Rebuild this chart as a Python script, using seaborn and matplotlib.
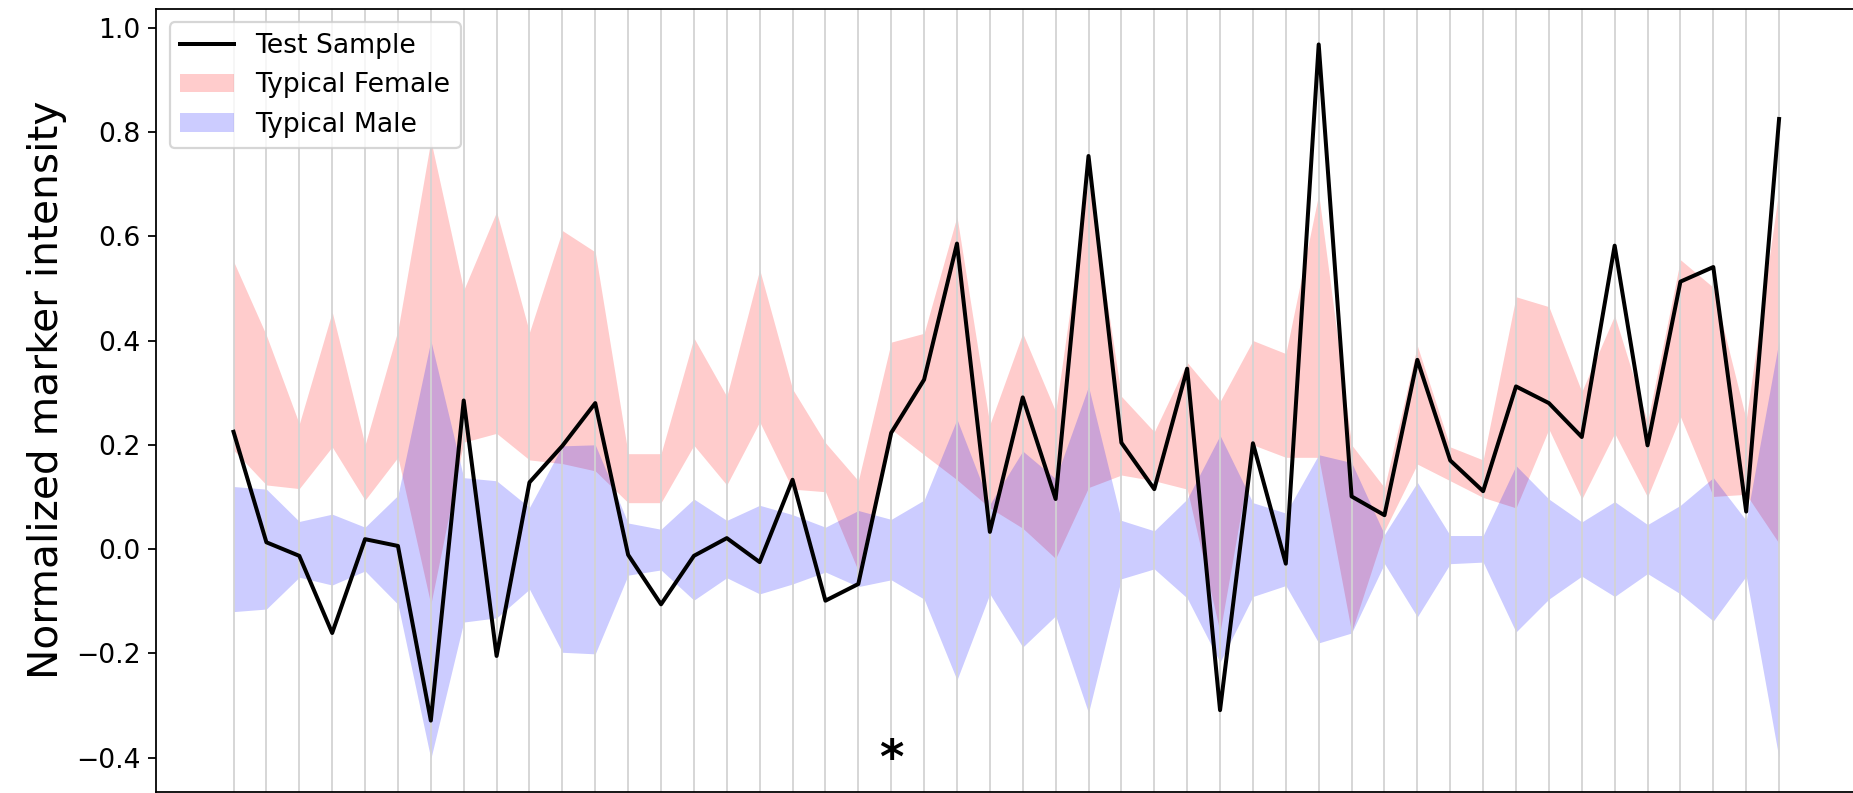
import numpy as np
import pandas as pd
import matplotlib
matplotlib.use("Agg")
import matplotlib.pyplot as plt
import seaborn as sns

# ---- data ----
positions = list(range(48))

test_sample = [0.225, 0.013, -0.013, -0.161, 0.019, 0.006, -0.329, 0.285, -0.205, 0.128,
               0.198, 0.280, -0.011, -0.106, -0.013, 0.021, -0.025, 0.133, -0.099, -0.067,
               0.223, 0.325, 0.586, 0.033, 0.291, 0.096, 0.754, 0.204, 0.115, 0.346,
               -0.309, 0.203, -0.028, 0.968, 0.101, 0.065, 0.363, 0.170, 0.111, 0.312,
               0.280, 0.215, 0.582, 0.199, 0.513, 0.541, 0.072, 0.825]

female_upper = [0.552, 0.410, 0.240, 0.455, 0.200, 0.420, 0.784, 0.497, 0.647, 0.416,
                0.611, 0.570, 0.183, 0.183, 0.405, 0.293, 0.536, 0.307, 0.204, 0.131,
                0.397, 0.414, 0.638, 0.239, 0.414, 0.264, 0.710, 0.293, 0.225, 0.358,
                0.283, 0.400, 0.375, 0.681, 0.200, 0.118, 0.390, 0.196, 0.171, 0.484,
                0.465, 0.302, 0.448, 0.244, 0.555, 0.502, 0.249, 0.691]

female_lower = [0.190, 0.123, 0.116, 0.196, 0.094, 0.176, -0.106, 0.205, 0.222, 0.171,
                0.164, 0.150, 0.089, 0.089, 0.199, 0.123, 0.244, 0.115, 0.110, -0.042,
                0.230, 0.181, 0.133, 0.079, 0.040, -0.018, 0.118, 0.142, 0.131, 0.115,
                -0.159, 0.200, 0.176, 0.176, -0.159, 0.035, 0.163, 0.131, 0.099, 0.079,
                0.230, 0.096, 0.222, 0.100, 0.254, 0.101, 0.105, 0.011]

male_upper = [0.120, 0.115, 0.053, 0.067, 0.042, 0.103, 0.400, 0.137, 0.131, 0.080,
              0.198, 0.200, 0.050, 0.038, 0.096, 0.055, 0.084, 0.066, 0.042, 0.074,
              0.057, 0.094, 0.249, 0.086, 0.188, 0.135, 0.312, 0.055, 0.035, 0.096,
              0.218, 0.089, 0.069, 0.181, 0.166, 0.028, 0.128, 0.026, 0.026, 0.160,
              0.096, 0.052, 0.091, 0.047, 0.084, 0.137, 0.055, 0.400]

male_lower = [-0.120, -0.115, -0.054, -0.069, -0.042, -0.106, -0.402, -0.140, -0.132, -0.077,
              -0.198, -0.201, -0.050, -0.040, -0.098, -0.055, -0.086, -0.067, -0.044, -0.072,
              -0.059, -0.096, -0.251, -0.086, -0.188, -0.128, -0.314, -0.057, -0.038, -0.094,
              -0.217, -0.091, -0.070, -0.180, -0.161, -0.028, -0.130, -0.028, -0.025, -0.159,
              -0.096, -0.052, -0.091, -0.047, -0.086, -0.138, -0.052, -0.402]

y_ticks = [-0.4, -0.2, 0.0, 0.2, 0.4, 0.6, 0.8, 1.0]
star_x = 20
star_y = -0.405

df = pd.DataFrame({"pos": positions, "test": test_sample})

# ---- figure ----
DPI = 160
fig = plt.figure(figsize=(1853 / DPI, 793 / DPI), dpi=DPI)
ax = fig.add_axes([0.08432, 0.00126, 0.91749, 0.98739])

ax.fill_between(positions, female_lower, female_upper, color="red", alpha=0.2,
                linewidth=0, label="Typical Female")
ax.fill_between(positions, male_lower, male_upper, color="blue", alpha=0.2,
                linewidth=0, label="Typical Male")
sns.lineplot(data=df, x="pos", y="test", color="black", linewidth=1.8,
             label="Test Sample", ax=ax, legend=False)

ax.text(star_x, star_y, "*", ha="center", va="center", fontsize=21,
        fontweight="bold", color="black")

ax.set_xlim(-2.35, 49.35)
ax.set_ylim(-0.466, 1.036)
ax.set_xticks(positions)
ax.tick_params(axis="x", labelbottom=False, length=0)
ax.set_yticks(y_ticks)
ax.set_yticklabels([f"{t:.1f}".replace("-", "\u2212") for t in y_ticks])
ax.tick_params(axis="y", labelsize=12)
ax.grid(axis="x", color="#d3d3d3", linewidth=0.8)
ax.grid(axis="y", visible=False)
ax.set_xlabel("")
ax.set_ylabel("Normalized marker intensity", fontsize=18.3)
ax.yaxis.label.set_y(0.514)

h, l = ax.get_legend_handles_labels()
order = [l.index("Test Sample"), l.index("Typical Female"), l.index("Typical Male")]
leg = ax.legend([h[i] for i in order], [l[i] for i in order], loc="upper left", fontsize=12)
for line in leg.get_lines():
    line.set_linewidth(1.8)

fig.savefig("out.png", dpi=DPI)
